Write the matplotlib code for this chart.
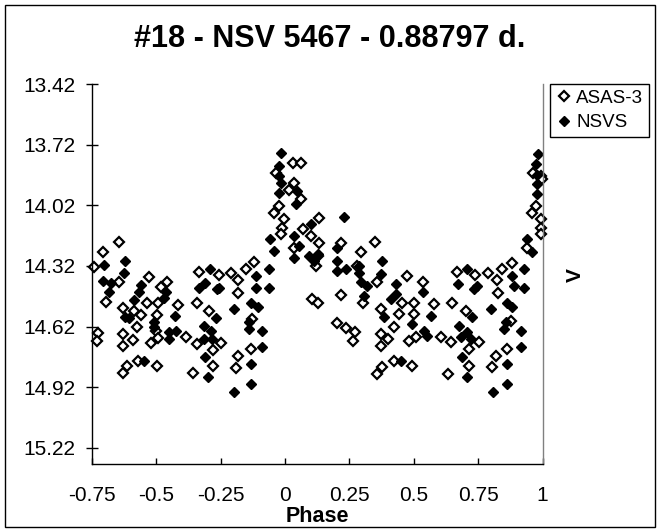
import matplotlib
matplotlib.use("Agg")
import matplotlib.pyplot as plt
from matplotlib.patches import Rectangle

# ASAS-3 (open diamonds)
asas_phase = [-0.647, -0.708, -0.742, -0.645, -0.696, -0.530, -0.459, -0.483, -0.631, -0.585,
              -0.560, -0.537, -0.492, -0.497, -0.414, -0.343, -0.336, -0.257, -0.210, -0.181,
              -0.183, -0.297, -0.726, -0.732, -0.631, -0.631, -0.591, -0.576, -0.519, -0.502,
              -0.493, -0.386, -0.343, -0.250, -0.280, -0.280, -0.183, -0.190, -0.357, -0.498,
              -0.571, -0.614, -0.631, 0.029, 0.061, -0.036, 0.035, 0.016, 0.061, -0.023,
              -0.043, -0.004, 0.132, -0.010, -0.017, 0.068, 0.100, 0.132, 0.035, 0.126,
              0.119, 0.216, 0.294, 0.348, 0.281, 0.359, 0.301, 0.372, -0.120, -0.153,
              -0.127, -0.133, 0.106, 0.126, 0.216, 0.201, 0.236, 0.271, 0.262, 0.372,
              0.372, 0.398, 0.378, 0.359, 0.993, 0.998, 0.974, 0.961, 0.993, 0.993,
              0.993, 0.941, 0.883, 0.844, 0.790, 0.822, 0.738, 0.667, 0.829, 0.650,
              0.702, 0.877, 0.475, 0.534, 0.579, 0.501, 0.456, 0.443, 0.501, 0.423,
              0.482, 0.508, 0.605, 0.643, 0.753, 0.715, 0.715, 0.861, 0.818, 0.805,
              0.423, 0.495, 0.631, 0.965]
asas_mag = [14.200, 14.249, 14.325, 14.399, 14.499, 14.374, 14.402, 14.422, 14.530, 14.543,
            14.565, 14.504, 14.504, 14.562, 14.512, 14.504, 14.348, 14.364, 14.356, 14.389,
            14.455, 14.543, 14.652, 14.693, 14.658, 14.715, 14.685, 14.621, 14.701, 14.644,
            14.677, 14.673, 14.706, 14.701, 14.734, 14.813, 14.764, 14.823, 14.851, 14.813,
            14.792, 14.816, 14.851, 13.810, 13.810, 13.859, 13.909, 13.942, 13.991, 14.024,
            14.057, 14.090, 14.081, 14.131, 14.164, 14.139, 14.172, 14.205, 14.229, 14.271,
            14.320, 14.205, 14.249, 14.200, 14.320, 14.402, 14.501, 14.534, 14.303, 14.336,
            14.583, 14.731, 14.484, 14.501, 14.463, 14.603, 14.627, 14.649, 14.690, 14.657,
            14.715, 14.682, 14.821, 14.854, 13.876, 13.892, 14.024, 14.057, 14.090, 14.131,
            14.164, 14.229, 14.308, 14.333, 14.356, 14.389, 14.364, 14.348, 14.455, 14.501,
            14.542, 14.591, 14.369, 14.402, 14.509, 14.501, 14.501, 14.558, 14.558, 14.624,
            14.690, 14.673, 14.673, 14.698, 14.698, 14.731, 14.813, 14.731, 14.764, 14.821,
            14.789, 14.813, 14.854, 13.859]

# NSVS (filled diamonds)
nsvs_phase = [-0.705, -0.623, -0.625, -0.709, -0.677, -0.683, -0.560, -0.567, -0.586, -0.463,
              -0.470, -0.621, -0.608, -0.509, -0.511, -0.427, -0.450, -0.424, -0.450, -0.291,
              -0.312, -0.334, -0.256, -0.263, -0.197, -0.269, -0.315, -0.289, -0.315, -0.285,
              -0.312, -0.299, -0.197, -0.548, -0.017, -0.023, -0.023, -0.017, -0.023, 0.048,
              0.042, 0.229, -0.058, -0.043, 0.035, 0.054, 0.035, 0.100, 0.093, 0.126,
              0.203, 0.203, 0.203, 0.236, 0.287, 0.378, 0.372, 0.294, 0.320, 0.307,
              0.384, -0.062, -0.114, -0.062, -0.114, -0.133, -0.107, -0.140, -0.140, -0.088,
              -0.088, -0.133, -0.133, 0.286, 0.111, 0.983, 0.974, 0.980, 0.980, 0.980,
              0.939, 0.961, 0.430, 0.430, 0.534, 0.410, 0.566, 0.495, 0.540, 0.553,
              0.449, 0.708, 0.670, 0.747, 0.734, 0.883, 0.928, 0.928, 0.889, 0.799,
              0.864, 0.883, 0.728, 0.676, 0.708, 0.682, 0.721, 0.857, 0.850, 0.915,
              0.915, 0.689, 0.864, 0.706, 0.861, 0.809]
nsvs_mag = [14.317, 14.298, 14.357, 14.394, 14.405, 14.451, 14.415, 14.451, 14.488, 14.451,
            14.479, 14.572, 14.577, 14.599, 14.624, 14.567, 14.649, 14.641, 14.682, 14.333,
            14.405, 14.427, 14.427, 14.435, 14.534, 14.578, 14.616, 14.641, 14.682, 14.682,
            14.772, 14.871, 14.942, 14.792, 13.761, 13.827, 13.876, 13.909, 13.958, 13.950,
            14.016, 14.076, 14.185, 14.246, 14.172, 14.221, 14.279, 14.114, 14.271, 14.262,
            14.229, 14.295, 14.345, 14.336, 14.320, 14.295, 14.361, 14.402, 14.419, 14.468,
            14.575, 14.336, 14.369, 14.427, 14.427, 14.501, 14.525, 14.599, 14.632, 14.641,
            14.723, 14.805, 14.904, 14.353, 14.295, 13.764, 13.818, 13.868, 13.917, 13.966,
            14.185, 14.251, 14.410, 14.460, 14.451, 14.484, 14.567, 14.608, 14.641, 14.665,
            14.789, 14.336, 14.410, 14.419, 14.435, 14.369, 14.336, 14.427, 14.419, 14.534,
            14.501, 14.525, 14.575, 14.616, 14.649, 14.673, 14.682, 14.599, 14.632, 14.641,
            14.723, 14.772, 14.805, 14.871, 14.904, 14.942]

x_ticks = [-0.75, -0.5, -0.25, 0, 0.25, 0.5, 0.75, 1]
x_labels = ['-0.75', '-0.5', '-0.25', '0', '0.25', '0.5', '0.75', '1']
y_ticks = [13.42, 13.72, 14.02, 14.32, 14.62, 14.92, 15.22]
y_labels = ['13.42', '13.72', '14.02', '14.32', '14.62', '14.92', '15.22']

plt.rcParams['font.family'] = ['Liberation Sans', 'DejaVu Sans']

W, H = 661, 532
fig = plt.figure(figsize=(W / 100, H / 100), dpi=100)
ax = fig.add_axes([92 / W, 1 - 464 / H, (542.5 - 92) / W, (464 - 84) / H])

ax.plot(asas_phase, asas_mag, 'D', ms=5.3, mfc='white', mec='black', mew=1.6,
        ls='none', clip_on=False, label='ASAS-3')
ax.plot(nsvs_phase, nsvs_mag, 'D', ms=5.6, mfc='black', mec='black', mew=1.0,
        ls='none', clip_on=False, label='NSVS')

ax.set_xlim(-0.75, 1)
ax.set_ylim(15.30, 13.42)
ax.set_xticks(x_ticks, x_labels)
ax.set_yticks(y_ticks, y_labels)
ax.tick_params(axis='y', direction='inout', length=8, width=1, labelsize=15, pad=8)
ax.tick_params(axis='x', direction='in', length=4.5, width=1, labelsize=15, pad=15.5)

ax.spines['top'].set_visible(False)
ax.spines['right'].set_color('#808080')
for s in ['left', 'bottom', 'right']:
    ax.spines[s].set_linewidth(1)

fig.text(330 / W, 1 - 47 / H, '#18 - NSV 5467 - 0.88797 d.', ha='center', va='baseline',
         fontsize=22, fontweight='bold')
fig.text(317 / W, 1 - 522 / H, 'Phase', ha='center', va='baseline',
         fontsize=15.5, fontweight='bold')
fig.text(575 / W, 1 - 275 / H, 'V', ha='center', va='center', rotation=90,
         fontsize=15, fontweight='bold')

leg = ax.legend(loc='upper left', bbox_to_anchor=(550 / W, 1 - 84 / H),
                bbox_transform=fig.transFigure, fancybox=False, edgecolor='black',
                framealpha=1, fontsize=13.5, borderpad=0.3, labelspacing=0.4,
                handlelength=0.9, handletextpad=0.2, borderaxespad=0, numpoints=1)
leg.get_frame().set_linewidth(1.0)

fig.add_artist(Rectangle((5 / W, 5 / H), 650 / W, 522 / H, transform=fig.transFigure,
                         fill=False, ec='black', lw=1))

fig.savefig('out.png', dpi=100)
